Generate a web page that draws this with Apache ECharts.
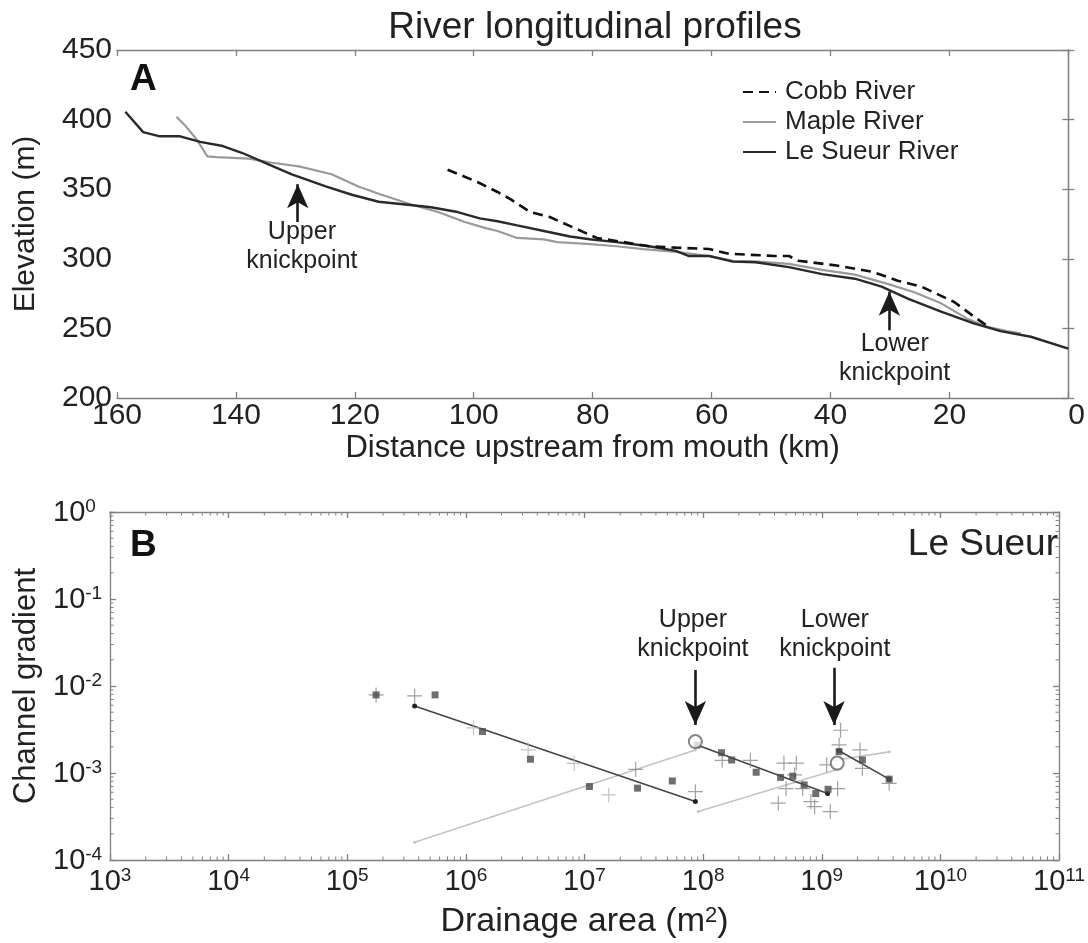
<!DOCTYPE html>
<html><head><meta charset="utf-8">
<script src="https://cdn.jsdelivr.net/npm/echarts@6/dist/echarts.min.js"></script>
<style>html,body{margin:0;padding:0;background:#fff}#c{width:1088px;height:943px}</style>
</head><body><div id="c"></div>
<script>
// ---------- Panel A: longitudinal profiles [distance km, elevation m] ----------
const cobbRiver = [[104.4,364],[99.3,355],[96,348],[93.9,343],[90.5,333.6],[87.2,330],[82.7,321.4],[79.3,315],[74.8,312],[70.5,309],[66,308],[60.4,307],[57.1,303.6],[49.3,302],[47,302],[45.4,298.6],[38.7,295],[33,290.7],[28.7,284.3],[24.7,280],[19.2,269],[15.9,258.6],[13.7,252]];
const mapleRiver = [[150,402],[148.6,396],[146.6,385.7],[144.8,373.6],[143.3,373],[137.8,372],[133.9,369],[129.4,366.4],[123.9,360.7],[119.4,352],[115.5,346],[110.5,339],[106,333.6],[101.5,326.4],[98,322],[96,320],[92.7,315],[88.2,314],[86,312],[81,310.7],[76,309],[71.5,307],[66,305],[60.4,302],[56.4,298.6],[52,298],[47,296.4],[41.4,292],[35.9,288.6],[30.4,282],[25.9,276],[21.4,268],[17,257],[13.7,251.4],[10.4,248],[8,246.5]];
const leSueurRiver = [[158.6,405.7],[155.6,391],[152.8,388],[149.4,388],[146,384],[142.2,381],[138.9,376],[134.9,368.6],[130.6,360.7],[124.9,352],[120.5,346],[116,341],[111.5,339],[107.2,337],[102.7,333.6],[99,329],[96,327],[92.7,324],[88.2,320],[83.8,316],[80.5,314],[76,312],[70.5,309],[66,305.7],[63.8,302],[60.4,302],[56.4,298],[52.6,297.5],[47,294],[41.4,289],[35.9,285.7],[31.4,280],[27,271.4],[21.4,262],[15.9,253.6],[11.4,248],[6.3,244],[0,235.5]];
const seriesNamesA = ['Cobb River','Maple River','Le Sueur River'];
const knickA = [
  {name:'Upper\nknickpoint', text:[128.9,308.6], tail:[129.6,326.4], tip:[129.6,353.6]},
  {name:'Lower\nknickpoint', text:[29.2,228.6], tail:[30.1,248.6], tip:[30.1,276.4]}
];

// ---------- Panel B: channel gradient vs drainage area [m2, gradient] ----------
const gradSquares = [[1.75e5,7.9e-3],[5.5e5,7.9e-3],[1.38e6,3.0e-3],[3.5e6,1.44e-3],[1.1e7,7.0e-4],[2.8e7,6.7e-4],[5.5e7,8.1e-4],[8.9e7,2.1e-3],[1.43e8,1.71e-3],[1.74e8,1.41e-3],[2.8e8,1.02e-3],[4.5e8,8.9e-4],[5.7e8,9.2e-4],[7.1e8,7.3e-4],[8.9e8,5.8e-4],[1.13e9,6.5e-4],[1.4e9,1.76e-3],[2.2e9,1.41e-3],[3.7e9,8.5e-4]];
const gradCrossesDark = [[1.75e5,7.9e-3],[3.7e5,7.7e-3],[2.7e7,1.1e-3],[8.6e7,6.1e-4],[1.45e8,1.4e-3],[2.5e8,1.4e-3],[4.8e8,1.3e-3],[6.1e8,1.3e-3],[5.9e8,9.5e-4],[5.0e8,6.6e-4],[6.9e8,6.6e-4],[4.3e8,4.5e-4],[8.1e8,4.7e-4],[8.7e8,4.1e-4],[1.18e9,3.6e-4],[1.36e9,6.6e-4],[1.44e9,3.1e-3],[1.4e9,2.1e-3],[2.1e9,1.84e-3],[2.2e9,1.13e-3],[1.1e9,1.24e-3],[3.7e9,7.6e-4]];
const gradCrossesLight = [[1.16e6,3.3e-3],[3.35e6,1.84e-3],[8.2e6,1.29e-3],[1.6e7,5.6e-4]];
const gradCircles = [[8.6e7,2.3e-3],[1.35e9,1.3e-3]];
const fitDark = [[[3.7e5,5.9e-3],[8.6e7,4.7e-4]],[[8.9e7,2.1e-3],[1.12e9,5.8e-4]],[[1.4e9,1.8e-3],[3.7e9,8.5e-4]]];
const fitLight = [[[3.7e5,1.6e-4],[8.6e7,1.84e-3]],[[9.1e7,3.6e-4],[1.35e9,1.1e-3]],[[1.3e9,1.4e-3],[3.7e9,1.75e-3]]];
const knickB = [
  {name:'Upper\nknickpoint', text:[8.2e7,3.86e-2], tail:[8.6e7,1.53e-2], tip:[8.6e7,3.56e-3]},
  {name:'Lower\nknickpoint', text:[1.29e9,3.86e-2], tail:[1.27e9,1.62e-2], tip:[1.27e9,3.56e-3]}
];

const FF = "'Liberation Sans', Arial, Helvetica, sans-serif";
const TXT = '#222';
const AX = '#808080';
const chart = echarts.init(document.getElementById('c'), null, {renderer:'canvas'});

function supFmt(v){ const e = Math.round(Math.log10(v)); return '{b|10}{s|' + e + '}'; }
const supRich = {b:{fontSize:29, fontFamily:FF, color:TXT, verticalAlign:'bottom', lineHeight:30}, s:{fontSize:19, fontFamily:FF, color:TXT, verticalAlign:'top', lineHeight:19}};

const axLine = {show:true, lineStyle:{color:AX, width:1.3}};
const tickIn = {show:true, inside:true, length:6, lineStyle:{color:AX, width:1.3}};

function arrowSeries(list, xi, yi){
  return {
    type:'scatter', xAxisIndex:xi, yAxisIndex:yi, symbolSize:0, silent:true, z:10,
    itemStyle:{color:'transparent'}, label:{show:false},
    data: list.map(k => ({name:k.name, value:k.text})),
    markLine:{silent:true, symbol:['none','arrow'], symbolSize:[16,24], label:{show:false},
      lineStyle:{color:'#1a1a1a', width:2.6, type:'solid'},
      emphasis:{disabled:true},
      data: list.map(k => [{coord:k.tail},{coord:k.tip}])}
  };
}

const series = [
  {name:'Cobb River', type:'line', xAxisIndex:0, yAxisIndex:0, data:cobbRiver, symbol:'none', lineStyle:{color:'#111', width:2.6, type:[10,6]}, itemStyle:{color:'#111'}, z:4},
  {name:'Maple River', type:'line', xAxisIndex:0, yAxisIndex:0, data:mapleRiver, symbol:'none', lineStyle:{color:'#9a9a9a', width:2.2}, itemStyle:{color:'#9a9a9a'}, z:2},
  {name:'Le Sueur River', type:'line', xAxisIndex:0, yAxisIndex:0, data:leSueurRiver, symbol:'none', lineStyle:{color:'#2a2a2a', width:2.4}, itemStyle:{color:'#2a2a2a'}, z:3},
  arrowSeries(knickA, 0, 0),
];
fitLight.forEach(seg => series.push({type:'line', xAxisIndex:2, yAxisIndex:2, data:seg, symbol:'circle', symbolSize:3, lineStyle:{color:'#c4c4c4', width:1.6}, itemStyle:{color:'#c4c4c4'}, silent:true, z:2}));
fitDark.forEach(seg => series.push({type:'line', xAxisIndex:2, yAxisIndex:2, data:seg, symbol:'circle', symbolSize:5, lineStyle:{color:'#444', width:1.6}, itemStyle:{color:'#222'}, silent:true, z:3}));
series.push(
  {type:'scatter', xAxisIndex:2, yAxisIndex:2, data:gradCrossesLight, symbol:'path://M0,9.2h20v1.6h-20z M9.2,0h1.6v20h-1.6z', symbolSize:15, itemStyle:{color:'#b5b5b5'}, silent:true, z:4},
  {type:'scatter', xAxisIndex:2, yAxisIndex:2, data:gradCrossesDark, symbol:'path://M0,9.2h20v1.6h-20z M9.2,0h1.6v20h-1.6z', symbolSize:15, itemStyle:{color:'#8a8a8a'}, silent:true, z:5},
  {type:'scatter', xAxisIndex:2, yAxisIndex:2, data:gradSquares, symbol:'rect', symbolSize:7, itemStyle:{color:'#4a4a4a'}, silent:true, z:6},
  {type:'scatter', xAxisIndex:2, yAxisIndex:2, data:gradCircles, symbol:'emptyCircle', symbolSize:13, itemStyle:{color:'#666', borderWidth:1.6}, silent:true, z:7},
  arrowSeries(knickB, 2, 2),
  {type:'custom', xAxisIndex:2, yAxisIndex:2, coordinateSystem:'cartesian2d', silent:true, clip:false, z:8,
   data:[[1e3,1e-4]],
   renderItem:(params, api) => {
     const a = api.coord([1e3,1e-4]), b = api.coord([1e11,1]);
     const left=a[0], bottom=a[1], right=b[0], top=b[1];
     const ch = [];
     const ln = (x1,y1,x2,y2) => ({type:'line', shape:{x1,y1,x2,y2}, style:{stroke:AX, lineWidth:1}});
     for (let d=3; d<11; d++) for (let m=2; m<=9; m++) {
       const px = api.coord([m*Math.pow(10,d),1e-4])[0];
       ch.push(ln(px,bottom,px,bottom-3.5), ln(px,top,px,top+3.5));
     }
     for (let d=-4; d<0; d++) for (let m=2; m<=9; m++) {
       const py = api.coord([1e3,m*Math.pow(10,d)])[1];
       ch.push(ln(left,py,left+3.5,py), ln(right,py,right-3.5,py));
     }
     return {type:'group', children:ch};
   }}
);

const option = {
  backgroundColor:'#fff',
  animation:false,
  textStyle:{fontFamily:FF},
  grid:[{left:117, top:50, width:958, height:348}, {left:110, top:512, width:957, height:348}],
  legend:{data:seriesNamesA, orient:'vertical', left:737, top:74, itemWidth:33, itemHeight:14, itemGap:4,
    itemStyle:{opacity:0, borderWidth:0},
    textStyle:{fontSize:26, color:TXT, fontFamily:FF, padding:[0,0,0,4]}},
  xAxis:[
    {gridIndex:0, type:'value', min:0, max:160, interval:20, inverse:true, position:'bottom',
     axisLine:axLine, axisTick:tickIn, splitLine:{show:false},
     axisLabel:{fontSize:30, color:TXT, margin:3, fontFamily:FF, alignMinLabel:'left'},
     name:'Distance upstream from mouth (km)', nameLocation:'middle', nameGap:35,
     nameTextStyle:{fontSize:31, color:TXT, fontFamily:FF}},
    {gridIndex:0, type:'value', min:0, max:160, interval:20, inverse:true, position:'top',
     axisLine:axLine, axisTick:tickIn, axisLabel:{show:false}, splitLine:{show:false}},
    {gridIndex:1, type:'log', logBase:10, min:1e3, max:1e11, splitNumber:8, position:'bottom',
     axisLine:axLine, axisTick:tickIn, splitLine:{show:false}, minorTick:{show:false},
     axisLabel:{formatter:supFmt, rich:supRich, margin:6},
     name:'Drainage area (m{s|2})', nameLocation:'middle', nameGap:45,
     nameTextStyle:{fontSize:34, color:TXT, fontFamily:FF, rich:{s:{fontSize:22, verticalAlign:'top', fontFamily:FF, color:TXT}}}},
    {gridIndex:1, type:'log', logBase:10, min:1e3, max:1e11, splitNumber:8, position:'top',
     axisLine:axLine, axisTick:tickIn, axisLabel:{show:false}, splitLine:{show:false}}
  ],
  yAxis:[
    {gridIndex:0, type:'value', min:200, max:450, interval:50, position:'left',
     axisLine:axLine, axisTick:tickIn, splitLine:{show:false},
     axisLabel:{fontSize:30, color:TXT, margin:5, fontFamily:FF},
     name:'Elevation (m)', nameLocation:'middle', nameGap:76,
     nameTextStyle:{fontSize:30, color:TXT, fontFamily:FF}},
    {gridIndex:0, type:'value', min:200, max:450, interval:50, position:'right',
     axisLine:axLine, axisTick:tickIn, axisLabel:{show:false}, splitLine:{show:false}},
    {gridIndex:1, type:'log', logBase:10, min:1e-4, max:1, splitNumber:4, position:'left',
     axisLine:axLine, axisTick:tickIn, splitLine:{show:false},
     axisLabel:{formatter:supFmt, rich:supRich, margin:57, align:'left'},
     name:'Channel gradient', nameLocation:'middle', nameGap:62,
     nameTextStyle:{fontSize:31, color:TXT, fontFamily:FF}},
    {gridIndex:1, type:'log', logBase:10, min:1e-4, max:1, splitNumber:4, position:'right',
     axisLine:axLine, axisTick:tickIn, axisLabel:{show:false}, splitLine:{show:false}}
  ],
  graphic:{elements:[
    {id:'title', type:'text', x:595, y:28, style:{text:'River longitudinal profiles', fontSize:37, fill:TXT, fontFamily:FF, align:'center', verticalAlign:'middle'}},
    {id:'lblA', type:'text', x:130, y:61, style:{text:'A', fontSize:37, fontWeight:'bold', fill:'#111', fontFamily:FF}},
    {id:'lblB', type:'text', x:130, y:527, style:{text:'B', fontSize:37, fontWeight:'bold', fill:'#111', fontFamily:FF}},
    {id:'lblLS', type:'text', x:1058, y:545, style:{text:'Le Sueur', fontSize:37, fill:TXT, fontFamily:FF, align:'right', verticalAlign:'middle'}}
  ]},
  series
};
chart.setOption(option);

// knickpoint captions placed at data coordinates through the chart's own scales
const captions = [];
knickA.forEach((k,i) => {
  const p = chart.convertToPixel({xAxisIndex:0, yAxisIndex:0}, k.text);
  captions.push({id:'kA'+i, type:'text', x:p[0], y:p[1], z:100, style:{text:k.name, fontSize:25, lineHeight:29, fill:TXT, fontFamily:FF, align:'center', verticalAlign:'middle'}});
});
knickB.forEach((k,i) => {
  const p = chart.convertToPixel({xAxisIndex:2, yAxisIndex:2}, k.text);
  captions.push({id:'kB'+i, type:'text', x:p[0], y:p[1], z:100, style:{text:k.name, fontSize:25, lineHeight:29, fill:TXT, fontFamily:FF, align:'center', verticalAlign:'middle'}});
});
chart.setOption({graphic:{elements:captions}});
</script></body></html>
